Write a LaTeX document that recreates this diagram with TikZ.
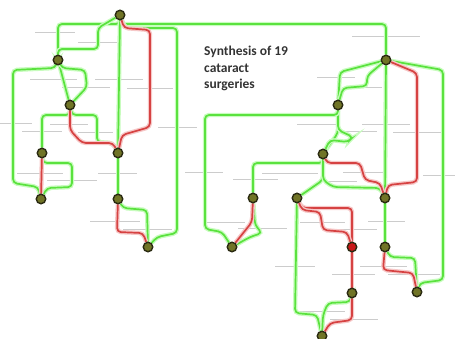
\documentclass[tikz,border=0pt]{standalone}
\usepackage{fontspec}
\setsansfont{Carlito}
\usepackage{tikz}
\usetikzlibrary{backgrounds}
\usepackage{xcolor}
\definecolor{vianormal}{RGB}{90,226,62}
\definecolor{halonormal}{RGB}{200,252,190}
\definecolor{viadesvio}{RGB}{214,66,66}
\definecolor{halodesvio}{RGB}{246,200,200}
\definecolor{pasorelleno}{RGB}{112,116,38}
\definecolor{pasoborde}{RGB}{42,42,18}
\definecolor{pasorojo}{RGB}{200,24,24}
\newcommand{\paso}[3][pasorelleno]{%
  \node[pasodot, fill=#1] (#2) at #3 {};}

\begin{document}
\begin{tikzpicture}[x=1pt, y=-1pt,
  pasodot/.style={circle, draw=pasoborde, line width=1.4pt,
                  minimum size=9.5pt, inner sep=0pt},
  vgreen/.style={draw=vianormal, line width=1.7pt, rounded corners=4pt,
                 preaction={draw=halonormal, line width=4.4pt}},
  vred/.style={draw=viadesvio, line width=1.7pt, rounded corners=4pt,
               preaction={draw=halodesvio, line width=4.4pt}},
  rotulo/.style={draw=gray!40, line width=0.35pt}]

\useasboundingbox (0,0) rectangle (455,338);

% pasos del proceso
\paso{inicio}{(120,15)}
\paso{pasoB}{(58,60)}
\paso{pasoC}{(70,105)}
\paso{pasoD}{(42,153)}
\paso{pasoE}{(118,153)}
\paso{pasoF}{(41,199)}
\paso{pasoG}{(118,199)}
\paso{pasoH}{(148,247)}
\paso{pasoI}{(386,60)}
\paso{pasoJ}{(338,105)}
\paso{pasoK}{(323,154)}
\paso{pasoL}{(253,198)}
\paso{pasoM}{(297,198)}
\paso{pasoN}{(385,198)}
\paso{pasoO}{(232,247)}
\paso[pasorojo]{pasoP}{(352,247)}
\paso{pasoQ}{(385,247)}
\paso{pasoR}{(352,293)}
\paso{pasoS}{(417,292)}
\paso{fin}{(322,336)}

\node[font=\sffamily\bfseries\fontsize{13.5}{16.5}\selectfont, text=black!80,
      align=left, anchor=north west, inner sep=0pt] (titulo) at (204,46)
  {Synthesis of 19\\cataract\\surgeries};

\begin{scope}[on background layer]
% rotulos ilegibles
\foreach \xa/\xb/\yy in {35/75/32, 78/117/42, 30/77/79, 95/143/79, 62/110/87,
    127/173/88, 0/32/123, 50/88/124, 22/62/131, 78/113/132, 158/197/127,
    17/63/173, 47/97/180, 98/137/173, 185/200/172, 90/140/221, 123/172/229,
    352/420/36, 317/355/77, 345/382/87, 297/340/124, 362/410/124, 342/377/131,
    393/443/132, 190/195/127, 190/223/172, 233/278/179, 262/318/173,
    343/383/172, 322/357/181, 423/455/175, 207/245/222, 238/287/228,
    300/345/222, 330/377/229, 368/405/221, 275/315/266, 360/407/266,
    332/375/274, 388/440/274, 298/345/311, 330/378/319}
  \draw[rotulo] (\xa,\yy) -- (\xb,\yy);

% vias verdes
\draw[vgreen] (inicio) -- (120,24) -| (pasoI);
\draw[vgreen] (inicio) -- (120,24) -| (pasoB);
\draw[vgreen] (inicio) -- (98,28) -- (98,49) -- (58,49) -- (pasoB);
\draw[vgreen] (inicio) -- (125,28) -- (177,28) -- (177,233) -- (157,237) -- (pasoH);
\draw[vgreen] (inicio) -- (pasoE);
\draw[vgreen] (pasoB) -- (55,68) -- (13,70) -- (13,183) -- (38,187) -- (pasoF);
\draw[vgreen] (pasoB) -- (pasoC);
\draw[vgreen] (pasoB) -- (62,68) -- (85,70) -- (87,87) -- (pasoC);
\draw[vgreen] (pasoC) -- (70,115) -| (pasoD);
\draw[vgreen] (pasoC) -- (72,115) -- (97,115) -- (97,142) -- (113,143) -- (pasoE);
\draw[vgreen] (pasoD) -- (43,163) -- (72,163) -- (72,187) -- (47,188) -- (pasoF);
\draw[vgreen] (pasoE) -- (pasoG);
\draw[vgreen] (pasoG) -- (123,208) -- (147,210) -- (pasoH);
\draw[vgreen] (pasoI) -- (340,72) -- (pasoJ);
\draw[vgreen] (pasoI) -- (367,76) -- (367,86) -- (343,88) -- (pasoJ);
\draw[vgreen] (pasoI) -- (443,70) -- (443,280) -- (420,283) -- (pasoS);
\draw[vgreen] (pasoI) -- (pasoN);
\draw[vgreen] (pasoJ) -- (338,133) -- (pasoK);
\draw[vgreen] (pasoJ) -- (338,130) -- (353,137) -- (348,142) -- (330,140) -- (pasoK);
\draw[vgreen] (pasoJ) -- (338,115) -- (205,115) -- (205,229) -- (222,232) -- (pasoO);
\draw[vgreen] (pasoK) -- (323,163) -| (pasoL);
\draw[vgreen] (pasoK) -- (323,180) -- (pasoM);
\draw[vgreen] (pasoK) -- (323,180) -- (333,187) -- (380,188) -- (pasoN);
\draw[vgreen] (pasoL) -- (255,225) -- (262,233) -- (250,237) -- (pasoO);
\draw[vgreen] (pasoM) -- (295,313) -- (317,315) -- (fin);
\draw[vgreen] (pasoR) -- (350,302) -- (328,303) -- (323,315) -- (fin);
\draw[vgreen] (pasoN) -- (pasoQ);
\draw[vgreen] (pasoQ) -- (390,257) -- (415,258) -- (pasoS);

% vias rojas
\draw[vred] (inicio) -- (124,28) -- (150,30) -- (150,127) -- (122,135) -- (pasoE);
\draw[vred] (pasoC) -- (70,130) -- (82,143) -- (113,143) -- (pasoE);
\draw[vred] (pasoD) -- (pasoF);
\draw[vred] (pasoG) -- (117,232) -- (143,233) -- (pasoH);
\draw[vred] (pasoI) -- (417,73) -- (417,182) -- (388,185) -- (pasoN);
\draw[vred] (pasoK) -- (327,163) -- (360,163) -- (365,180) -- (380,183) -- (pasoN);
\draw[vred] (pasoL) -- (252,222) -- (pasoO);
\draw[vred] (pasoM) -- (302,208) -- (352,208) -- (pasoP);
\draw[vred] (pasoM) -- (302,210) -- (320,212) -- (323,230) -- (347,232) -- (pasoP);
\draw[vred] (pasoP) -- (pasoR);
\draw[vred] (pasoR) -- (352,320) -- (330,323) -- (fin);
\draw[vred] (pasoQ) -- (383,270) -- (413,273) -- (pasoS);
\end{scope}

\end{tikzpicture}
\end{document}
